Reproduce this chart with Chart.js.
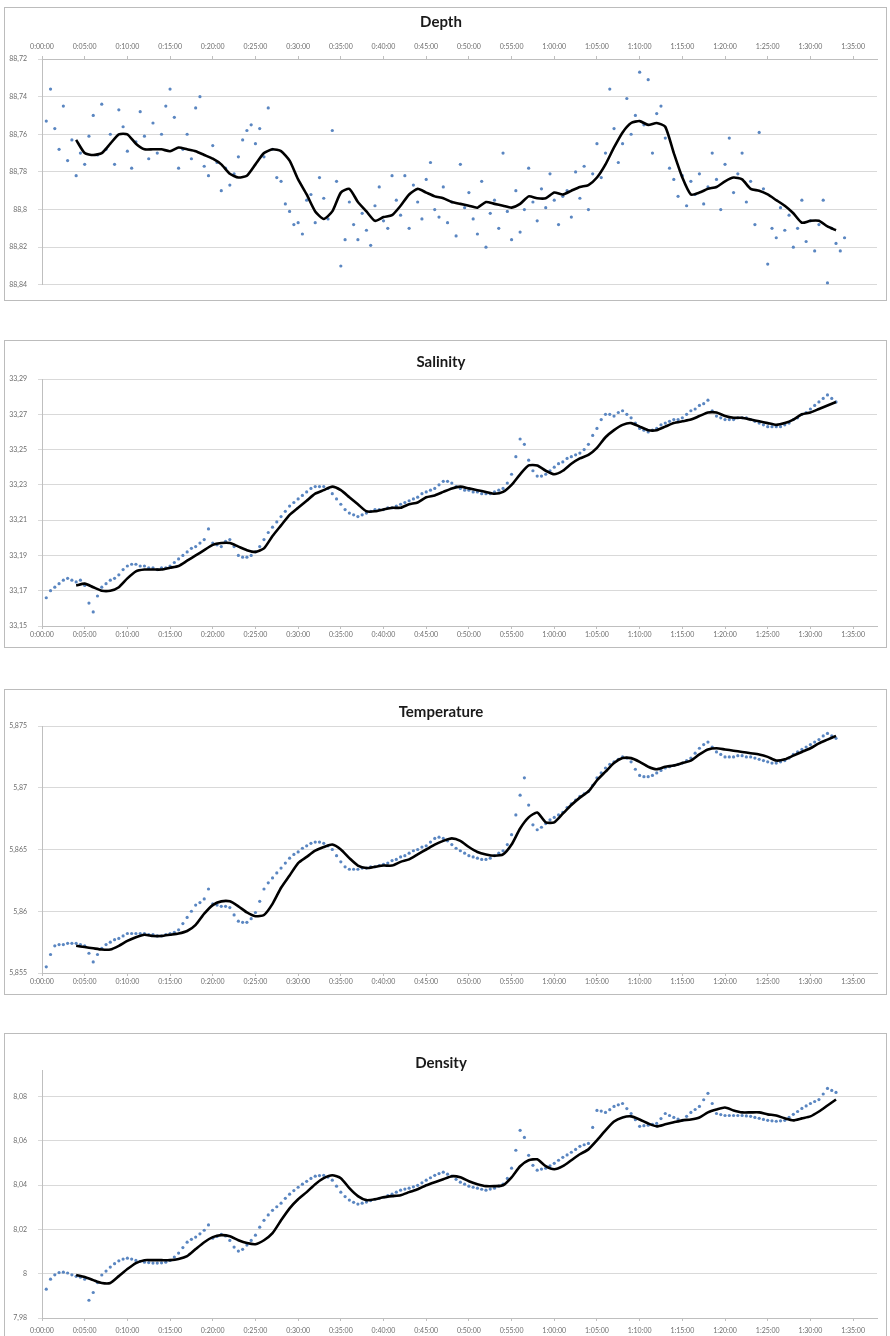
<!DOCTYPE html>
<html>
<head>
<meta charset="utf-8">
<title>Depth, Salinity, Temperature, Density</title>
<script src="https://cdn.jsdelivr.net/npm/chart.js@4.4.1/dist/chart.umd.min.js"></script>
<style>
    html, body { margin: 0; padding: 0; background: #fff; }
    body { width: 890px; height: 1336px; position: relative; overflow: hidden; }
    .panel { position: absolute; left: 4px; width: 881px; border: 1px solid #bcbcbc; background: #fff; }
    .panel canvas { display: block; }
</style>
</head>
<body>
<div class="panel" style="top:7px;height:292px"><canvas id="chartDepth" width="881" height="292"></canvas></div>
<div class="panel" style="top:340px;height:306px"><canvas id="chartSalinity" width="881" height="306"></canvas></div>
<div class="panel" style="top:689px;height:304px"><canvas id="chartTemperature" width="881" height="304"></canvas></div>
<div class="panel" style="top:1033px;height:310px"><canvas id="chartDensity" width="881" height="310"></canvas></div>

<script>
"use strict";

// dots every 30 s starting 0:00:30, moving average every minute starting 0:04:00
const sampleStart = 0.5, sampleStep = 0.5;
const trendStart = 4, trendStep = 1;

// tick labels
const timeTicks = [0, 5, 10, 15, 20, 25, 30, 35, 40, 45, 50, 55, 60, 65, 70, 75, 80, 85, 90, 95];
const depthTicks = [88.72, 88.74, 88.76, 88.78, 88.8, 88.82, 88.84];
const salinityTicks = [33.15, 33.17, 33.19, 33.21, 33.23, 33.25, 33.27, 33.29];
const temperatureTicks = [5.855, 5.86, 5.865, 5.87, 5.875];
const densityTicks = [7.98, 8, 8.02, 8.04, 8.06, 8.08];

// ---------------- depth ----------------
const depthSamples = [
    88.753, 88.736, 88.757, 88.768, 88.745, 88.774, 88.763, 88.782, 88.770, 88.776,
    88.761, 88.750, 88.771, 88.744, 88.768, 88.760, 88.776, 88.747, 88.756, 88.769,
    88.778, 88.764, 88.748, 88.761, 88.773, 88.754, 88.770, 88.760, 88.745, 88.736,
    88.751, 88.778, 88.768, 88.760, 88.773, 88.746, 88.740, 88.777, 88.782, 88.766,
    88.775, 88.790, 88.778, 88.787, 88.781, 88.772, 88.763, 88.758, 88.755, 88.765,
    88.757, 88.772, 88.746, 88.768, 88.783, 88.785, 88.797, 88.801, 88.808, 88.807,
    88.813, 88.795, 88.792, 88.807, 88.783, 88.794, 88.805, 88.758, 88.785, 88.830,
    88.816, 88.796, 88.808, 88.816, 88.802, 88.811, 88.819, 88.798, 88.788, 88.806,
    88.810, 88.782, 88.795, 88.803, 88.782, 88.810, 88.787, 88.796, 88.805, 88.784,
    88.775, 88.800, 88.804, 88.788, 88.807, 88.796, 88.814, 88.776, 88.799, 88.791,
    88.805, 88.813, 88.785, 88.820, 88.802, 88.795, 88.810, 88.770, 88.801, 88.816,
    88.790, 88.812, 88.800, 88.778, 88.796, 88.806, 88.789, 88.799, 88.781, 88.795,
    88.808, 88.793, 88.790, 88.804, 88.780, 88.794, 88.777, 88.800, 88.781, 88.765,
    88.783, 88.770, 88.736, 88.757, 88.775, 88.765, 88.741, 88.760, 88.750, 88.727,
    88.755, 88.731, 88.770, 88.749, 88.745, 88.762, 88.778, 88.784, 88.793, 88.782,
    88.798, 88.785, 88.792, 88.781, 88.797, 88.788, 88.770, 88.784, 88.800, 88.776,
    88.762, 88.791, 88.781, 88.770, 88.796, 88.785, 88.808, 88.759, 88.789, 88.829,
    88.810, 88.815, 88.799, 88.811, 88.803, 88.820, 88.810, 88.795, 88.817, 88.806,
    88.822, 88.808, 88.795, 88.839, 88.810, 88.818, 88.822, 88.815
];
const depthTrend = [
    88.763, 88.770, 88.771, 88.770, 88.765, 88.760, 88.760, 88.765, 88.768, 88.768,
    88.768, 88.769, 88.767, 88.768, 88.769, 88.771, 88.773, 88.776, 88.781, 88.783,
    88.782, 88.776, 88.770, 88.768, 88.769, 88.774, 88.784, 88.792, 88.801, 88.805,
    88.801, 88.791, 88.789, 88.796, 88.801, 88.806, 88.804, 88.803, 88.798, 88.792,
    88.789, 88.791, 88.793, 88.794, 88.796, 88.797, 88.798, 88.799, 88.796, 88.797,
    88.798, 88.799, 88.797, 88.793, 88.794, 88.794, 88.791, 88.792, 88.790, 88.788,
    88.787, 88.783, 88.776, 88.767, 88.759, 88.754, 88.753, 88.755, 88.754, 88.756,
    88.770, 88.783, 88.792, 88.791, 88.789, 88.788, 88.785, 88.783, 88.784, 88.789,
    88.790, 88.792, 88.795, 88.798, 88.802, 88.807, 88.806, 88.806, 88.809, 88.811
];

// ---------------- salinity ----------------
const salinitySamples = [
    33.166, 33.170, 33.172, 33.174, 33.176, 33.177, 33.176, 33.175, 33.176, 33.173,
    33.163, 33.158, 33.167, 33.172, 33.174, 33.176, 33.177, 33.179, 33.182, 33.184,
    33.185, 33.185, 33.184, 33.184, 33.183, 33.183, 33.182, 33.183, 33.183, 33.184,
    33.186, 33.188, 33.190, 33.192, 33.194, 33.195, 33.197, 33.199, 33.205, 33.197,
    33.196, 33.195, 33.198, 33.199, 33.195, 33.190, 33.189, 33.189, 33.190, 33.192,
    33.195, 33.199, 33.203, 33.206, 33.209, 33.212, 33.215, 33.218, 33.220, 33.222,
    33.224, 33.226, 33.228, 33.229, 33.229, 33.229, 33.228, 33.225, 33.222, 33.219,
    33.216, 33.214, 33.213, 33.212, 33.213, 33.214, 33.215, 33.216, 33.216, 33.216,
    33.217, 33.217, 33.218, 33.219, 33.220, 33.221, 33.222, 33.223, 33.225, 33.226,
    33.227, 33.228, 33.230, 33.232, 33.232, 33.231, 33.229, 33.228, 33.227, 33.227,
    33.226, 33.226, 33.225, 33.225, 33.225, 33.226, 33.227, 33.228, 33.231, 33.236,
    33.246, 33.256, 33.253, 33.244, 33.238, 33.235, 33.235, 33.236, 33.238, 33.240,
    33.242, 33.243, 33.245, 33.246, 33.247, 33.248, 33.250, 33.253, 33.258, 33.262,
    33.267, 33.270, 33.270, 33.269, 33.271, 33.272, 33.270, 33.268, 33.265, 33.262,
    33.261, 33.260, 33.261, 33.262, 33.264, 33.265, 33.266, 33.267, 33.267, 33.268,
    33.270, 33.272, 33.273, 33.275, 33.276, 33.278, 33.272, 33.269, 33.268, 33.267,
    33.267, 33.267, 33.268, 33.268, 33.268, 33.267, 33.266, 33.265, 33.264, 33.263,
    33.263, 33.263, 33.263, 33.264, 33.265, 33.267, 33.268, 33.270, 33.271, 33.273,
    33.275, 33.277, 33.279, 33.281, 33.279, 33.277
];
const salinityTrend = [
    33.173, 33.174, 33.172, 33.170, 33.170, 33.172, 33.177, 33.181, 33.182, 33.182,
    33.182, 33.183, 33.184, 33.187, 33.190, 33.193, 33.196, 33.197, 33.197, 33.195,
    33.193, 33.192, 33.194, 33.201, 33.207, 33.213, 33.217, 33.221, 33.225, 33.227,
    33.229, 33.227, 33.223, 33.219, 33.215, 33.215, 33.216, 33.217, 33.217, 33.219,
    33.220, 33.223, 33.224, 33.226, 33.228, 33.229, 33.228, 33.227, 33.226, 33.225,
    33.226, 33.230, 33.236, 33.241, 33.241, 33.238, 33.236, 33.238, 33.242, 33.245,
    33.247, 33.251, 33.257, 33.261, 33.264, 33.265, 33.263, 33.261, 33.261, 33.263,
    33.265, 33.266, 33.267, 33.269, 33.271, 33.271, 33.269, 33.268, 33.268, 33.267,
    33.266, 33.265, 33.264, 33.265, 33.267, 33.270, 33.271, 33.273, 33.275, 33.277
];

// ---------------- temperature ----------------
const temperatureSamples = [
    5.8555, 5.8565, 5.8572, 5.8573, 5.8573, 5.8574, 5.8574, 5.8574, 5.8573, 5.8572,
    5.8566, 5.8559, 5.8565, 5.8570, 5.8573, 5.8575, 5.8577, 5.8578, 5.8580, 5.8582,
    5.8582, 5.8582, 5.8582, 5.8582, 5.8581, 5.8581, 5.8580, 5.8580, 5.8581, 5.8582,
    5.8583, 5.8585, 5.8590, 5.8595, 5.8600, 5.8605, 5.8607, 5.8610, 5.8618, 5.8606,
    5.8605, 5.8604, 5.8604, 5.8603, 5.8597, 5.8592, 5.8591, 5.8591, 5.8594, 5.8599,
    5.8608, 5.8618, 5.8623, 5.8627, 5.8631, 5.8635, 5.8639, 5.8643, 5.8646, 5.8648,
    5.8651, 5.8653, 5.8655, 5.8656, 5.8656, 5.8655, 5.8653, 5.8650, 5.8645, 5.8640,
    5.8636, 5.8634, 5.8634, 5.8634, 5.8635, 5.8635, 5.8636, 5.8636, 5.8637, 5.8638,
    5.8639, 5.8641, 5.8642, 5.8644, 5.8645, 5.8647, 5.8649, 5.8650, 5.8652, 5.8653,
    5.8656, 5.8659, 5.8660, 5.8659, 5.8657, 5.8654, 5.8651, 5.8649, 5.8647, 5.8645,
    5.8644, 5.8643, 5.8642, 5.8642, 5.8643, 5.8645, 5.8647, 5.8649, 5.8654, 5.8662,
    5.8678, 5.8694, 5.8708, 5.8686, 5.8670, 5.8666, 5.8668, 5.8671, 5.8674, 5.8676,
    5.8678, 5.8680, 5.8684, 5.8687, 5.8690, 5.8693, 5.8695, 5.8697, 5.8702, 5.8708,
    5.8712, 5.8716, 5.8719, 5.8721, 5.8723, 5.8725, 5.8724, 5.8721, 5.8715, 5.8710,
    5.8709, 5.8709, 5.8710, 5.8712, 5.8714, 5.8716, 5.8717, 5.8718, 5.8719, 5.8720,
    5.8722, 5.8724, 5.8728, 5.8732, 5.8735, 5.8737, 5.8733, 5.8729, 5.8727, 5.8725,
    5.8725, 5.8725, 5.8726, 5.8726, 5.8725, 5.8725, 5.8724, 5.8723, 5.8722, 5.8721,
    5.8720, 5.8720, 5.8721, 5.8722, 5.8724, 5.8727, 5.8729, 5.8731, 5.8733, 5.8735,
    5.8737, 5.8739, 5.8742, 5.8744, 5.8742, 5.8740
];
const temperatureTrend = [
    5.8572, 5.8571, 5.8570, 5.8569, 5.8569, 5.8572, 5.8576, 5.8579, 5.8581, 5.8580,
    5.8580, 5.8581, 5.8582, 5.8584, 5.8589, 5.8598, 5.8605, 5.8608, 5.8608, 5.8604,
    5.8599, 5.8596, 5.8597, 5.8606, 5.8619, 5.8629, 5.8639, 5.8644, 5.8649, 5.8652,
    5.8654, 5.8650, 5.8643, 5.8637, 5.8635, 5.8636, 5.8637, 5.8637, 5.8640, 5.8642,
    5.8646, 5.8650, 5.8654, 5.8657, 5.8659, 5.8657, 5.8652, 5.8648, 5.8646, 5.8645,
    5.8646, 5.8654, 5.8667, 5.8676, 5.8680, 5.8672, 5.8672, 5.8679, 5.8686, 5.8692,
    5.8697, 5.8706, 5.8713, 5.8720, 5.8724, 5.8724, 5.8721, 5.8717, 5.8715, 5.8717,
    5.8718, 5.8720, 5.8722, 5.8727, 5.8731, 5.8732, 5.8731, 5.8730, 5.8729, 5.8728,
    5.8727, 5.8725, 5.8722, 5.8723, 5.8726, 5.8729, 5.8732, 5.8736, 5.8739, 5.8742
];

// ---------------- density ----------------
const densitySamples = [
    7.9930, 7.9975, 7.9995, 8.0005, 8.0007, 8.0003, 7.9995, 7.9988, 7.9984, 7.9975,
    7.9880, 7.9915, 7.9960, 7.9994, 8.0012, 8.0030, 8.0045, 8.0058, 8.0066, 8.0070,
    8.0066, 8.0060, 8.0056, 8.0052, 8.0050, 8.0048, 8.0048, 8.0049, 8.0052, 8.0060,
    8.0075, 8.0093, 8.0118, 8.0142, 8.0155, 8.0165, 8.0180, 8.0196, 8.0220, 8.0160,
    8.0168, 8.0178, 8.0170, 8.0150, 8.0120, 8.0102, 8.0110, 8.0129, 8.0150, 8.0174,
    8.0210, 8.0241, 8.0265, 8.0286, 8.0302, 8.0318, 8.0340, 8.0359, 8.0375, 8.0390,
    8.0404, 8.0417, 8.0430, 8.0440, 8.0443, 8.0444, 8.0436, 8.0422, 8.0395, 8.0368,
    8.0348, 8.0332, 8.0322, 8.0314, 8.0318, 8.0323, 8.0330, 8.0336, 8.0340, 8.0345,
    8.0352, 8.0359, 8.0368, 8.0377, 8.0382, 8.0386, 8.0392, 8.0399, 8.0410, 8.0422,
    8.0433, 8.0444, 8.0452, 8.0458, 8.0449, 8.0440, 8.0426, 8.0413, 8.0404, 8.0395,
    8.0390, 8.0386, 8.0381, 8.0377, 8.0382, 8.0386, 8.0395, 8.0404, 8.0430, 8.0476,
    8.0557, 8.0647, 8.0615, 8.0534, 8.0489, 8.0467, 8.0472, 8.0476, 8.0487, 8.0498,
    8.0512, 8.0525, 8.0536, 8.0548, 8.0561, 8.0575, 8.0582, 8.0588, 8.0660, 8.0737,
    8.0734, 8.0728, 8.0740, 8.0755, 8.0762, 8.0768, 8.0745, 8.0723, 8.0695, 8.0665,
    8.0668, 8.0670, 8.0674, 8.0678, 8.0700, 8.0723, 8.0714, 8.0705, 8.0698, 8.0692,
    8.0710, 8.0728, 8.0741, 8.0755, 8.0785, 8.0814, 8.0768, 8.0723, 8.0718, 8.0714,
    8.0714, 8.0714, 8.0714, 8.0714, 8.0712, 8.0710, 8.0705, 8.0701, 8.0696, 8.0692,
    8.0690, 8.0688, 8.0690, 8.0692, 8.0705, 8.0719, 8.0732, 8.0746, 8.0757, 8.0768,
    8.0777, 8.0786, 8.0811, 8.0836, 8.0827, 8.0818
];
const densityTrend = [
    7.9994, 7.9985, 7.9971, 7.9958, 7.9958, 7.9989, 8.0021, 8.0048, 8.0061, 8.0061,
    8.0061, 8.0061, 8.0066, 8.0079, 8.0111, 8.0142, 8.0165, 8.0174, 8.0169, 8.0151,
    8.0138, 8.0133, 8.0151, 8.0183, 8.0241, 8.0295, 8.0336, 8.0368, 8.0404, 8.0431,
    8.0444, 8.0431, 8.0386, 8.0350, 8.0332, 8.0336, 8.0345, 8.0350, 8.0354, 8.0368,
    8.0381, 8.0399, 8.0413, 8.0426, 8.0440, 8.0435, 8.0417, 8.0404, 8.0395, 8.0395,
    8.0399, 8.0435, 8.0485, 8.0512, 8.0516, 8.0485, 8.0471, 8.0485, 8.0512, 8.0539,
    8.0561, 8.0602, 8.0647, 8.0687, 8.0705, 8.0710, 8.0696, 8.0678, 8.0665, 8.0674,
    8.0683, 8.0692, 8.0696, 8.0705, 8.0728, 8.0741, 8.0750, 8.0737, 8.0728, 8.0728,
    8.0728, 8.0719, 8.0714, 8.0701, 8.0692, 8.0701, 8.0710, 8.0732, 8.0759, 8.0786
];

//--------------------------------helpers---------------------------------
const font = "Lato, 'Liberation Sans', sans-serif";
const labelColor = '#6e6e6e';
const dotColor = '#5a86c1';

function toPoints(start, step, values) {
    return values.map((v, i) => ({ x: start + i * step, y: v }));
}

function timeLabel(m) {
    const h = Math.floor(m / 60);
    const mm = m % 60;
    return h + ':' + (mm < 10 ? '0' : '') + mm + ':00';
}

function commaLabel(v) {
    return String(v).replace('.', ',');
}

function makeChart(id, o) {
    const ctx = document.getElementById(id).getContext('2d');
    return new Chart(ctx, {
        type: 'scatter',
        data: {
            datasets: [{
                data: toPoints(trendStart, trendStep, o.trend),
                showLine: true,
                borderColor: '#000000',
                borderWidth: 2.6,
                pointRadius: 0,
                tension: 0.2,
                order: 1
            }, {
                data: toPoints(sampleStart, sampleStep, o.samples),
                backgroundColor: dotColor,
                borderWidth: 0,
                pointRadius: 1.6,
                order: 2
            }]
        },
        options: {
            responsive: false,
            animation: false,
            events: [],
            layout: { padding: { left: 0, right: 9, top: 0, bottom: o.padBottom } },
            plugins: {
                legend: { display: false },
                tooltip: { enabled: false },
                title: {
                    display: true,
                    text: o.title,
                    color: '#1a1a1a',
                    font: { family: font, size: 15, weight: 'bold', lineHeight: 1 },
                    padding: { top: o.titleTop, bottom: o.titleBottom }
                }
            },
            scales: {
                x: {
                    type: 'linear',
                    position: o.xPos,
                    min: 0,
                    max: 97.8,
                    afterBuildTicks: axis => { axis.ticks = timeTicks.map(v => ({ value: v })); },
                    afterFit: axis => { axis.height = o.xHeight; },
                    grid: { drawOnChartArea: false, drawTicks: true, tickLength: 3, color: '#bfbfbf' },
                    border: { color: '#bfbfbf' },
                    ticks: {
                        autoSkip: false,
                        maxRotation: 0,
                        padding: o.xPad,
                        color: labelColor,
                        font: { family: font, size: 7 },
                        callback: v => timeLabel(v)
                    }
                },
                y: {
                    type: 'linear',
                    min: o.yMin,
                    max: o.yMax,
                    reverse: !!o.reverse,
                    afterBuildTicks: axis => { axis.ticks = o.yTicks.map(v => ({ value: v })); },
                    afterFit: axis => { axis.width = 37; },
                    grid: { color: '#d9d9d9', drawTicks: true, tickLength: 4 },
                    border: { color: '#bfbfbf' },
                    ticks: {
                        padding: 11,
                        color: labelColor,
                        font: { family: font, size: 7 },
                        callback: v => commaLabel(v)
                    }
                }
            }
        }
    });
}

//--------------------------------charts---------------------------------
const chartDepth = makeChart('chartDepth', {
    title: 'Depth', samples: depthSamples, trend: depthTrend,
    yMin: 88.72, yMax: 88.84, yTicks: depthTicks, reverse: true,
    xPos: 'top', xHeight: 29.5, xPad: 4.8,
    titleTop: 6.5, titleBottom: 0, padBottom: 9
});

const chartSalinity = makeChart('chartSalinity', {
    title: 'Salinity', samples: salinitySamples, trend: salinityTrend,
    yMin: 33.15, yMax: 33.29, yTicks: salinityTicks,
    xPos: 'bottom', xHeight: 21, xPad: 1.8,
    titleTop: 13.5, titleBottom: 9.5, padBottom: 0
});

const chartTemperature = makeChart('chartTemperature', {
    title: 'Temperature', samples: temperatureSamples, trend: temperatureTrend,
    yMin: 5.855, yMax: 5.875, yTicks: temperatureTicks,
    xPos: 'bottom', xHeight: 21, xPad: 1.8,
    titleTop: 14.5, titleBottom: 6.5, padBottom: 0
});

const chartDensity = makeChart('chartDensity', {
    title: 'Density', samples: densitySamples, trend: densityTrend,
    yMin: 7.98, yMax: 8.0917, yTicks: densityTicks,
    xPos: 'bottom', xHeight: 26, xPad: 5.8,
    titleTop: 21.5, titleBottom: 0, padBottom: 0
});
</script>
</body>
</html>
